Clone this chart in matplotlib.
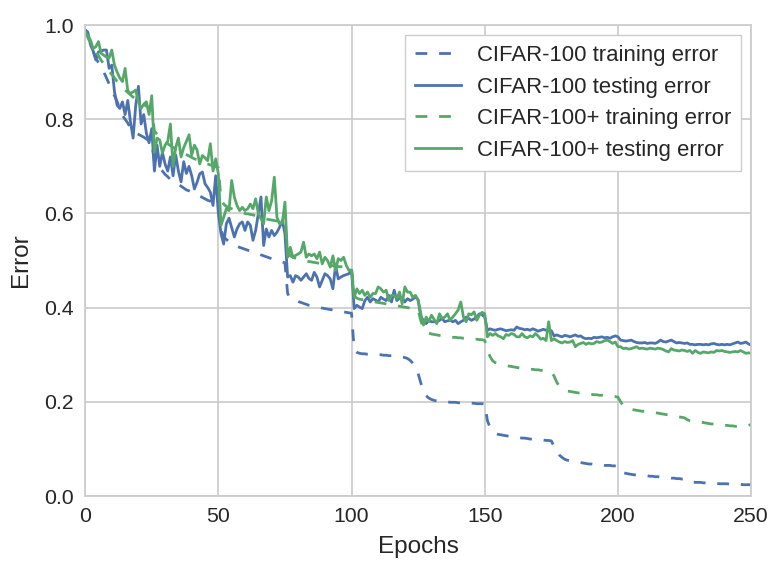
import numpy as np
import matplotlib
matplotlib.use("Agg")
import matplotlib.pyplot as plt

# Error per epoch (epochs 0..250)
epochs = np.arange(251)

c100_train = [
    .990, .975, .960, .945, .930, .920, .910, .900, .888, .875,
    .862, .850, .838, .822, .808, .800, .792, .782, .775, .770,
    .768, .765, .762, .758, .755, .750, .710, .700, .695, .690,
    .683, .678, .672, .668, .665, .662, .658, .654, .650, .648,
    .645, .642, .640, .637, .634, .631, .628, .626, .624, .622,
    .620, .565, .550, .545, .540, .535, .532, .530, .528, .526,
    .524, .522, .520, .518, .516, .514, .512, .510, .508, .506,
    .504, .502, .500, .499, .497, .495, .430, .420, .418, .415,
    .413, .411, .409, .407, .405, .404, .402, .401, .400, .399,
    .398, .397, .396, .395, .394, .393, .392, .391, .390, .389,
    .388, .310, .305, .303, .302, .302, .301, .301, .300, .300,
    .300, .300, .299, .299, .298, .298, .297, .296, .296, .295,
    .294, .292, .288, .282, .272, .260, .240, .222, .213, .208,
    .205, .203, .202, .201, .200, .200, .200, .199, .199, .199,
    .198, .198, .198, .197, .197, .197, .197, .196, .196, .196,
    .196, .160, .145, .138, .133, .131, .130, .129, .128, .127,
    .126, .125, .124, .124, .123, .123, .122, .121, .121, .120,
    .120, .119, .119, .118, .118, .117, .105, .095, .087, .082,
    .078, .076, .075, .074, .073, .072, .071, .070, .069, .068,
    .068, .067, .067, .066, .066, .065, .065, .065, .064, .064,
    .064, .056, .050, .048, .047, .046, .045, .045, .044, .044,
    .043, .043, .042, .042, .041, .041, .040, .040, .039, .039,
    .038, .038, .037, .037, .036, .036, .032, .030, .030, .029,
    .029, .029, .028, .028, .028, .027, .027, .027, .026, .026,
    .026, .026, .025, .025, .025, .025, .025, .024, .024, .024, .024,
]

c100_test = [
    .990, .985, .958, .945, .926, .943, .945, .947, .947, .908,
    .915, .859, .830, .823, .837, .810, .840, .795, .760, .830,
    .870, .790, .810, .770, .750, .780, .690, .745, .700, .730,
    .705, .690, .720, .680, .724, .690, .667, .710, .685, .700,
    .680, .652, .666, .684, .688, .663, .655, .645, .617, .680,
    .600, .557, .535, .578, .590, .570, .550, .567, .578, .582,
    .564, .582, .575, .543, .564, .600, .635, .532, .567, .550,
    .564, .553, .560, .571, .585, .557, .465, .468, .454, .468,
    .465, .458, .465, .472, .462, .458, .475, .465, .444, .458,
    .472, .468, .461, .440, .490, .461, .465, .468, .470, .472,
    .479, .398, .405, .401, .398, .415, .422, .412, .419, .416,
    .412, .422, .418, .415, .426, .412, .437, .415, .420, .422,
    .412, .419, .415, .418, .423, .416, .380, .373, .366, .373,
    .370, .370, .370, .373, .377, .370, .372, .373, .370, .373,
    .366, .370, .373, .380, .377, .373, .376, .380, .387, .385,
    .380, .352, .355, .353, .352, .354, .355, .353, .351, .352,
    .353, .352, .359, .356, .355, .353, .354, .352, .355, .353,
    .350, .352, .354, .352, .352, .351, .340, .342, .340, .338,
    .341, .340, .338, .340, .342, .339, .340, .336, .334, .335,
    .334, .337, .336, .337, .338, .336, .337, .335, .338, .340,
    .338, .331, .330, .329, .330, .331, .328, .326, .325, .325,
    .326, .324, .325, .325, .324, .327, .331, .328, .327, .329,
    .331, .328, .325, .326, .325, .324, .325, .322, .322, .321,
    .322, .322, .321, .322, .321, .323, .324, .322, .321, .322,
    .321, .322, .321, .323, .325, .327, .324, .325, .327, .323, .320,
]

c100p_train = [
    .985, .975, .965, .955, .945, .935, .925, .918, .910, .902,
    .895, .888, .880, .874, .868, .862, .857, .852, .847, .843,
    .839, .835, .831, .828, .825, .822, .775, .768, .762, .757,
    .752, .748, .744, .740, .737, .734, .731, .728, .725, .722,
    .719, .716, .714, .711, .709, .707, .705, .703, .701, .699,
    .697, .630, .620, .615, .612, .610, .608, .606, .604, .602,
    .600, .599, .598, .597, .595, .593, .591, .589, .588, .587,
    .586, .585, .584, .583, .582, .580, .520, .510, .507, .505,
    .503, .501, .500, .499, .498, .497, .496, .495, .494, .493,
    .492, .491, .490, .489, .488, .487, .487, .486, .485, .485,
    .484, .425, .420, .418, .417, .416, .415, .414, .413, .412,
    .411, .410, .409, .408, .407, .406, .405, .404, .403, .402,
    .401, .400, .399, .398, .397, .395, .372, .356, .349, .346,
    .344, .343, .342, .341, .340, .339, .338, .338, .337, .337,
    .336, .336, .335, .335, .334, .334, .333, .333, .332, .332,
    .330, .310, .296, .287, .283, .281, .279, .278, .277, .276,
    .275, .274, .273, .272, .271, .270, .270, .269, .269, .268,
    .268, .267, .267, .266, .265, .264, .255, .242, .233, .228,
    .225, .223, .222, .221, .220, .219, .219, .218, .217, .217,
    .216, .215, .215, .214, .214, .213, .212, .212, .211, .211,
    .210, .200, .192, .188, .186, .184, .183, .182, .181, .180,
    .180, .179, .178, .177, .177, .176, .175, .174, .173, .172,
    .171, .170, .169, .168, .167, .166, .162, .160, .159, .158,
    .158, .157, .156, .155, .154, .153, .153, .152, .152, .151,
    .150, .150, .149, .149, .148, .148, .148, .148, .149, .150, .152,
]

c100p_test = [
    .985, .978, .968, .950, .954, .965, .940, .936, .932, .930,
    .947, .915, .900, .888, .880, .908, .860, .855, .858, .862,
    .837, .823, .832, .837, .810, .850, .730, .760, .756, .728,
    .745, .753, .790, .700, .740, .760, .720, .740, .753, .767,
    .724, .745, .735, .705, .723, .718, .712, .748, .690, .716,
    .684, .575, .592, .610, .606, .670, .635, .617, .606, .613,
    .606, .610, .620, .610, .631, .600, .589, .578, .635, .606,
    .627, .677, .592, .578, .580, .624, .507, .528, .507, .511,
    .514, .518, .539, .507, .514, .510, .514, .504, .518, .493,
    .507, .500, .486, .510, .479, .504, .500, .507, .490, .479,
    .480, .422, .440, .430, .437, .426, .433, .422, .430, .430,
    .444, .440, .433, .437, .415, .426, .426, .419, .433, .408,
    .444, .433, .433, .422, .426, .416, .387, .363, .380, .370,
    .384, .375, .366, .387, .377, .380, .387, .373, .380, .387,
    .395, .412, .380, .370, .387, .385, .391, .373, .384, .390,
    .387, .338, .345, .341, .345, .340, .338, .334, .343, .341,
    .345, .343, .338, .338, .345, .338, .336, .340, .338, .345,
    .340, .333, .335, .330, .370, .330, .334, .330, .327, .325,
    .328, .326, .327, .330, .317, .322, .324, .326, .322, .325,
    .323, .324, .328, .326, .327, .330, .331, .328, .324, .327,
    .317, .317, .313, .314, .312, .313, .315, .317, .313, .314,
    .313, .312, .314, .313, .312, .314, .313, .311, .308, .306,
    .313, .310, .309, .308, .310, .309, .307, .309, .303, .309,
    .305, .303, .306, .305, .304, .306, .305, .309, .308, .309,
    .307, .306, .305, .306, .307, .306, .309, .306, .303, .304, .303,
]

series_labels = [
    "CIFAR-100 training error",
    "CIFAR-100 testing error",
    "CIFAR-100+ training error",
    "CIFAR-100+ testing error",
]
x_ticks = [0, 50, 100, 150, 200, 250]
y_ticks = [0.0, 0.2, 0.4, 0.6, 0.8, 1.0]

BLUE = "#4C72B0"
GREEN = "#55A868"
TEXT = "#262626"
GRID = "#CCCCCC"
DASH = (0, (8.5, 8.5))
LW = 2.0

plt.rcParams["font.family"] = ["Liberation Sans", "DejaVu Sans"]
plt.rcParams["lines.scale_dashes"] = False

fig = plt.figure(figsize=(7.74, 5.62), dpi=100)
ax = fig.add_axes([0.110, 0.1174, 0.8605, 0.838])

ax.plot(epochs, c100_train, color=BLUE, ls=DASH, lw=LW, label=series_labels[0])
ax.plot(epochs, c100_test, color=BLUE, lw=LW, label=series_labels[1])
ax.plot(epochs, c100p_train, color=GREEN, ls=DASH, lw=LW, label=series_labels[2])
ax.plot(epochs, c100p_test, color=GREEN, lw=LW, label=series_labels[3])

ax.set_xlim(0, 250)
ax.set_ylim(0, 1.0)
ax.set_xticks(x_ticks)
ax.set_yticks(y_ticks)
ax.set_yticklabels([f"{v:.1f}" for v in y_ticks])
ax.set_axisbelow(True)
ax.grid(True, color=GRID, lw=1.25)
for sp in ax.spines.values():
    sp.set_color(GRID)
    sp.set_linewidth(1.25)
ax.tick_params(length=0, labelsize=15.3, colors=TEXT, pad=8)

ax.set_xlabel("Epochs", fontsize=17.5, color=TEXT, labelpad=7)
ax.set_ylabel("Error", fontsize=17.5, color=TEXT, labelpad=9)

leg = ax.legend(loc="upper right", fontsize=15.9, frameon=True, fancybox=False,
                labelspacing=0.48, handlelength=2.1, handletextpad=0.7,
                borderaxespad=0.45, borderpad=0.45)
leg.get_frame().set_edgecolor(GRID)
leg.get_frame().set_facecolor("white")
leg.get_frame().set_alpha(1.0)
for t in leg.get_texts():
    t.set_color(TEXT)

fig.savefig("out.png", dpi=100)
